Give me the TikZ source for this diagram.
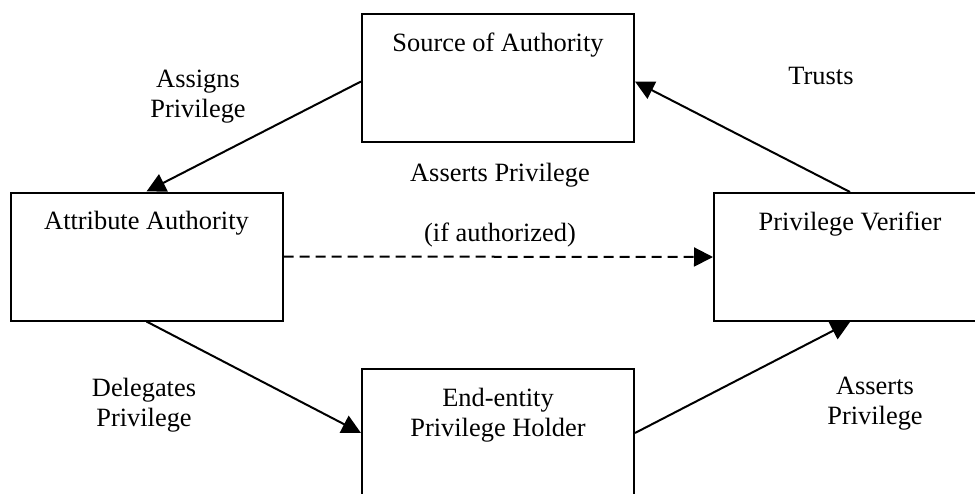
\documentclass[tikz,border=0pt]{standalone}
\usepackage{fontspec}
\setmainfont{Liberation Serif}
\usetikzlibrary{arrows.meta}
\begin{document}
\begin{tikzpicture}[x=0.5pt, y=-0.5pt,
  font=\fontsize{13.2pt}{15pt}\selectfont,
  box/.style={draw, line width=1pt, minimum width=136pt, minimum height=64pt},
  boxtext/.style={anchor=north, yshift=-6.5pt, align=center},
  conn/.style={line width=1pt, -{Triangle[length=9.5pt, width=9.5pt]}},
  lbl/.style={align=center}]
  \useasboundingbox (0,0) rectangle (975,493);
  \clip (0,0) rectangle (975,493);
  \node[box, label={[boxtext, name=srctext]north:Source of Authority}] (src) at (498,77.5) {};
  \node[box, label={[boxtext, name=attrtext]north:Attribute Authority}] (attr) at (146.5,256.5) {};
  \node[box, label={[boxtext, name=veriftext]north:Privilege Verifier}] (verif) at (850,257) {};
  \node[box, label={[boxtext, name=holdertext]north:End-entity\\Privilege Holder}] (holder) at (498,433) {};
  \draw[conn] ([yshift=-2pt]src.west) -- (attr.north);
  \draw[conn] (verif.north) -- ([yshift=-2pt]src.east);
  \draw[conn, dash pattern=on 5pt off 3pt] (attr.east) -- (verif.west);
  \draw[conn] (attr.south) -- (holder.west);
  \draw[conn] (holder.east) -- (verif.south);
  \node[lbl] (assigns) at (198,97) {Assigns\\Privilege};
  \node[anchor=base] (trusts) at (821,84) {Trusts};
  \node[anchor=base] (asserts) at (500,181) {Asserts Privilege};
  \node[anchor=base] (ifauth) at (500,241) {(if authorized)};
  \node[lbl] (delegates) at (144,405) {Delegates\\Privilege};
  \node[lbl] (assertsend) at (875,404) {Asserts\\Privilege};
\end{tikzpicture}
\end{document}
